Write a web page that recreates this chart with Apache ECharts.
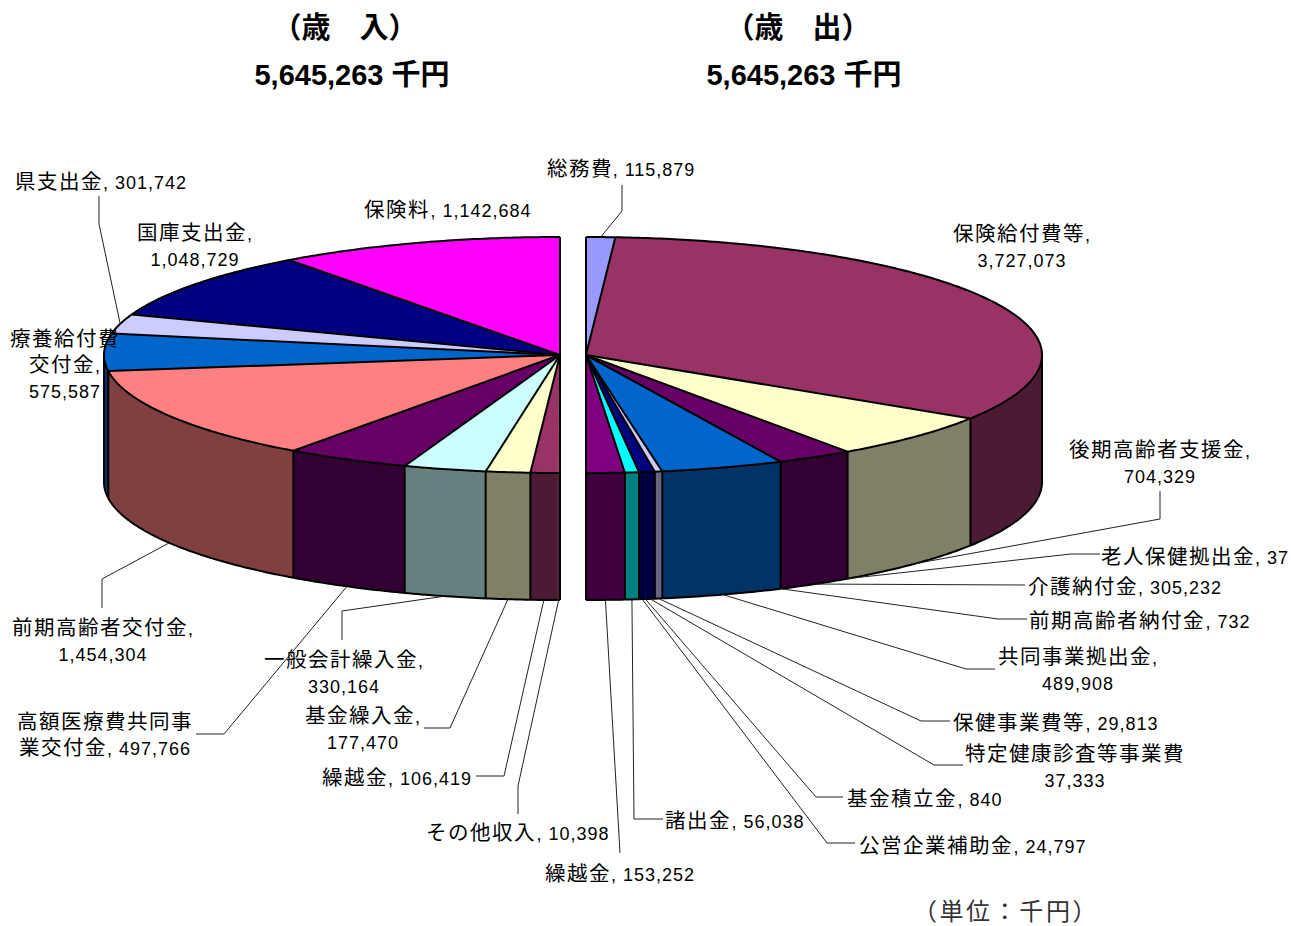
<!DOCTYPE html>
<html>
<head>
<meta charset="utf-8">
<title>歳入・歳出</title>
<style>
  /* kana and kanji run larger than the narrow digits in the original labels */
  @font-face {
    font-family: "LabelCJK";
    src: local("Noto Sans CJK JP"), local("Noto Sans CJK JP Regular"), local("NotoSansCJKjp-Regular");
    size-adjust: 114%;
  }
  html, body { margin: 0; padding: 0; background: #fff; }
  #chart { width: 1291px; height: 926px; }
  /* zrender has no letter spacing of its own, the labels in the original are widely set */
  #chart text { letter-spacing: 2.6px; }
  #chart text[style*="LabelCJK"] { letter-spacing: 1px; }
  #chart text[style*="bold"] { letter-spacing: 0; }
</style>
<script src="https://cdn.jsdelivr.net/npm/echarts@6/dist/echarts.min.js"></script>
</head>
<body>
<div id="chart"></div>
<script>
// 歳入
const revenueNames = ["保険料", "国庫支出金", "県支出金", "療養給付費交付金", "前期高齢者交付金", "高額医療費共同事業交付金", "一般会計繰入金", "基金繰入金", "繰越金", "その他収入"];
const revenueValues = [1142684, 1048729, 301742, 575587, 1454304, 497766, 330164, 177470, 106419, 10398];
const revenueColors = ["#FF00FF", "#000080", "#CCCCFF", "#0066CC", "#FF8080", "#660066", "#CCFFFF", "#FFFFCC", "#993366", "#993366"];

// 歳出
const expenseNames = ["総務費", "保険給付費等", "後期高齢者支援金", "老人保健拠出金", "介護納付金", "前期高齢者納付金", "共同事業拠出金", "保健事業費等", "特定健康診査等事業費", "基金積立金", "公営企業補助金", "諸出金", "繰越金"];
const expenseValues = [115879, 3727073, 704329, 37, 305232, 732, 489908, 29813, 37333, 840, 24797, 56038, 153252];
const expenseColors = ["#9999FF", "#993366", "#FFFFCC", "#FFFFCC", "#660066", "#660066", "#0066CC", "#CCCCFF", "#000080", "#000080", "#000080", "#00FFFF", "#800080"];

// label place, line break and leader elbows for each slice (same order as the data)
const revenueLayout = [
  { x: 448, y: 211 },
  { x: 195, y: 247, valueBreak: true },
  { x: 101, y: 183, leader: [[99, 224], [99, 196]] },
  { x: 65, y: 366, cut: 5, valueBreak: true },
  { x: 103, y: 642, valueBreak: true, leader: [[102, 579], [102, 608]] },
  { x: 105, y: 736, cut: 8, leader: [[224, 734], [196, 734]] },
  { x: 344, y: 674, valueBreak: true, leader: [[342, 611], [342, 640]] },
  { x: 363, y: 730, valueBreak: true, leader: [[450, 728], [424, 728]] },
  { x: 397, y: 779, leader: [[504, 776], [476, 776]] },
  { x: 518, y: 834, leader: [[518, 786], [518, 814]] }
];
const expenseLayout = [
  { x: 621, y: 170, leader: [[622, 211], [622, 185]] },
  { x: 1022, y: 248, valueBreak: true },
  { x: 1160, y: 464, valueBreak: true, leader: [[1160, 519], [1160, 491]] },
  { x: 1195, y: 558, leader: [[1071, 554], [1100, 554]] },
  { x: 1125, y: 588, leader: [[1025, 585]] },
  { x: 1140, y: 622, leader: [[998, 619], [1027, 619]] },
  { x: 1078, y: 671, valueBreak: true, leader: [[966, 669], [995, 669]] },
  { x: 1056, y: 724, leader: [[921, 721], [950, 721]] },
  { x: 1075, y: 768, valueBreak: true, noComma: true, leader: [[934, 765], [963, 765]] },
  { x: 925, y: 800, leader: [[816, 797], [843, 797]] },
  { x: 973, y: 847, leader: [[827, 843], [855, 843]] },
  { x: 735, y: 822, leader: [[634, 819], [663, 819]] },
  { x: 620, y: 875, leader: [[620, 853]] }
];

const LABEL_FONT = "18px 'Liberation Sans', 'LabelCJK', 'Noto Sans CJK JP', sans-serif";
const TITLE_FONT = "bold 29px 'Liberation Sans', 'Noto Sans CJK JP', sans-serif";
const UNIT_FONT = "24px 'Liberation Serif', 'Noto Sans CJK JP', serif";
const CY = 355, RX = 456, RY = 118, DEPTH = 127, EDGE = 2;

function sum(list) {
  return list.reduce(function (a, b) { return a + b; }, 0);
}
function fmt(n) {
  return String(n).replace(/\B(?=(\d{3})+$)/g, ",");
}
// side walls are the top colour at half brightness
function darker(hex) {
  const n = parseInt(hex.slice(1), 16);
  const half = function (v) { return Math.round(v / 2); };
  return "rgb(" + half(n >> 16) + "," + half((n >> 8) & 255) + "," + half(n & 255) + ")";
}
function labelText(name, value, l) {
  let s = l.cut ? name.slice(0, l.cut) + "\n" + name.slice(l.cut) : name;
  if (!l.noComma) s += ",";
  return s + (l.valueBreak ? "\n" : " ") + fmt(value);
}

function pieSeries(names, values, colors, layout, cx, dir) {
  const total = sum(values);
  const starts = [];
  values.reduce(function (acc, v, i) { starts[i] = acc; return acc + v; }, 0);
  const toAngle = function (v) { return v / total * Math.PI; };
  const rim = function (a, drop) {
    return [cx + dir * RX * Math.sin(a), CY - RY * Math.cos(a) + (drop || 0)];
  };
  const arc = function (a0, a1, drop) {
    const n = Math.max(1, Math.ceil((a1 - a0) / 0.01));
    const pts = [];
    for (let k = 0; k <= n; k++) pts.push(rim(a0 + (a1 - a0) * k / n, drop));
    return pts;
  };
  const line = function (points, width, color, z2) {
    return { type: "polyline", silent: true, z2: z2,
      shape: { points: points },
      style: { fill: null, stroke: color || "#000", lineWidth: width || EDGE, lineJoin: "round" } };
  };
  const fill = function (points, color) {
    return { type: "polygon", silent: true, z2: 1,
      shape: { points: points },
      style: { fill: color, stroke: color, lineWidth: 0.5 } };
  };

  return {
    type: "custom",
    coordinateSystem: "none",
    silent: true,
    animation: false,
    data: values,
    renderItem: function (params) {
      const i = params.dataIndex;
      const a0 = toAngle(starts[i]);
      const a1 = toAngle(starts[i] + values[i]);
      const mid = (a0 + a1) / 2;
      const front = Math.PI / 2;
      const center = [cx, CY];
      const newColor = i === 0 || colors[i] !== colors[i - 1];
      const out = [];

      // wall, only the part on the near half is seen
      if (a1 > front) {
        const w0 = Math.max(a0, front);
        const top = arc(w0, a1);
        const bottom = arc(w0, a1, DEPTH);
        out.push(fill(top.concat(bottom.slice().reverse()), darker(colors[i])));
        out.push(line(bottom, EDGE, "#000", 2));
        if (a0 < front || newColor) out.push(line([rim(w0), rim(w0, DEPTH)], EDGE, "#000", 2));
        if (i === values.length - 1) out.push(line([rim(a1), rim(a1, DEPTH)], EDGE, "#000", 2));
      }

      // top face
      const face = arc(a0, a1);
      out.push(fill([center].concat(face), colors[i]));
      out.push(line(face, EDGE, "#000", 3));
      if (newColor) out.push(line([center, rim(a0)], EDGE, "#000", 3));
      if (i === values.length - 1) out.push(line([center, rim(a1)], EDGE, "#000", 3));

      // leader runs from the slice's outer edge out to its label
      const l = layout[i];
      if (l.leader) {
        const from = rim(mid, mid > front ? DEPTH : 0);
        out.push(line([from].concat(l.leader), 1, "#222", 4));
      }
      out.push({ type: "text", silent: true, z2: 5,
        style: { x: l.x, y: l.y, text: labelText(names[i], values[i], l),
          font: LABEL_FONT, fill: "#000", align: "center", verticalAlign: "middle", lineHeight: 26 } });
      return { type: "group", children: out };
    }
  };
}

const chart = echarts.init(document.getElementById("chart"), null, { renderer: "svg" });
chart.setOption({
  backgroundColor: "#fff",
  animation: false,
  graphic: [
    { type: "text", silent: true, style: { x: 345, y: 28, text: "（歳　入）", font: TITLE_FONT, fill: "#000", align: "center", verticalAlign: "middle" } },
    { type: "text", silent: true, style: { x: 352, y: 75, text: fmt(sum(revenueValues)) + " 千円", font: TITLE_FONT, fill: "#000", align: "center", verticalAlign: "middle" } },
    { type: "text", silent: true, style: { x: 798, y: 28, text: "（歳　出）", font: TITLE_FONT, fill: "#000", align: "center", verticalAlign: "middle" } },
    { type: "text", silent: true, style: { x: 804, y: 75, text: fmt(sum(expenseValues)) + " 千円", font: TITLE_FONT, fill: "#000", align: "center", verticalAlign: "middle" } },
    { type: "text", silent: true, style: { x: 1006, y: 912, text: "（単位：千円）", font: UNIT_FONT, fill: "#333", align: "center", verticalAlign: "middle" } }
  ],
  series: [
    pieSeries(revenueNames, revenueValues, revenueColors, revenueLayout, 560, -1),
    pieSeries(expenseNames, expenseValues, expenseColors, expenseLayout, 586, 1)
  ]
});
</script>
</body>
</html>
